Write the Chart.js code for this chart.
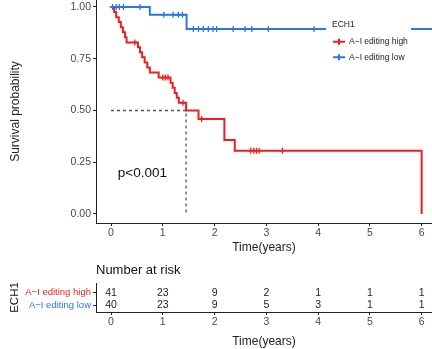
<!DOCTYPE html>
<html>
<head>
<meta charset="utf-8">
<title>ECH1 survival</title>
<script src="https://cdn.jsdelivr.net/npm/chart.js@4.4.1/dist/chart.umd.min.js"></script>
<style>
  html, body { margin: 0; padding: 0; background: #fff; }
  #wrap { position: relative; width: 432px; height: 349px; overflow: hidden; }
  #km { position: absolute; left: 0; top: 0; }
  #risk { position: absolute; left: 0; top: 255px; }
</style>
</head>
<body>
<div id="wrap">
  <canvas id="km" width="432" height="255"></canvas>
  <canvas id="risk" width="432" height="94"></canvas>
</div>
<script>
// Kaplan-Meier curves, ECH1 A-to-I editing groups
const highLabel = 'A\u2212I editing high';
const lowLabel = 'A\u2212I editing low';

const highTimes = [0, 0.06, 0.10, 0.15, 0.19, 0.23, 0.27, 0.30, 0.52, 0.56, 0.60, 0.65, 0.70, 0.75, 0.92, 1.15, 1.19, 1.23, 1.27, 1.31, 1.45, 1.69, 2.19, 2.39, 6.00];
const highSurv  = [1, 0.976, 0.951, 0.927, 0.902, 0.878, 0.854, 0.829, 0.805, 0.781, 0.757, 0.732, 0.708, 0.683, 0.659, 0.634, 0.610, 0.585, 0.561, 0.537, 0.500, 0.459, 0.357, 0.306, 0];
const highCensor = [0.46, 1.00, 1.05, 1.10, 1.39, 1.75, 2.70, 2.76, 2.81, 2.86, 3.31];

const lowTimes = [0, 0.75, 1.46, 6.2];
const lowSurv  = [1, 0.962, 0.894, 0.894];
const lowCensor = [0.03, 0.10, 0.16, 0.24, 0.56, 1.02, 1.20, 1.30, 1.38, 1.59, 1.69, 1.78, 1.88, 1.97, 2.04, 2.36, 2.59, 2.72, 3.04, 3.92];

const medianTime = 1.45;
const medianSurv = 0.5;
const pValue = 'p<0.001';

const timeTicks = [0, 1, 2, 3, 4, 5, 6];
const survTicks = [0, 0.25, 0.5, 0.75, 1];
const riskHigh = [41, 23, 9, 2, 1, 1, 1];
const riskLow  = [40, 23, 9, 5, 3, 1, 1];

const RED = '#F01E1E';
const BLUE = '#2C76E6';
const AXIS = '#222';
const TICK = '#4a4a4a';
const FONT = '"Liberation Sans", Arial, sans-serif';

Chart.defaults.font.family = FONT;

const X_MIN = -0.29, X_MAX = 6.2;

// survival value at time t (step function)
function survAt(times, surv, t) {
    let s = surv[0];
    for (let i = 0; i < times.length; i++) {
        if (times[i] <= t) s = surv[i];
    }
    return s;
}

const toPoints = (xs, ys) => xs.map((x, i) => ({ x: x, y: ys[i] }));
const censorPoints = (cs, times, surv) => cs.map(t => ({ x: t, y: survAt(times, surv, t) }));

function noPad(s) {
    s.paddingTop = 0; s.paddingBottom = 0; s.paddingLeft = 0; s.paddingRight = 0;
}

function timeAxis(height, titlePad) {
    return {
        type: 'linear', min: X_MIN, max: X_MAX,
        afterBuildTicks: s => { s.ticks = timeTicks.map(v => ({ value: v })); },
        afterFit: s => { s.height = height; noPad(s); },
        grid: { display: true, drawOnChartArea: false, drawTicks: true, tickLength: 3, color: AXIS, lineWidth: 1 },
        border: { display: true, color: AXIS, width: 1 },
        ticks: { color: TICK, font: { size: 10.5 }, padding: 1, maxRotation: 0, autoSkip: false },
        title: { display: true, text: 'Time(years)', color: '#222', font: { size: 12 }, padding: { top: titlePad, bottom: 0 } }
    };
}

// legend box and p-value label
const kmExtras = {
    id: 'kmExtras',
    afterDatasetsDraw(chart) {
        const ctx = chart.ctx;
        const xs = chart.scales.x, ys = chart.scales.y;
        ctx.save();
        ctx.fillStyle = '#fff';
        ctx.fillRect(326, 12, 85, 56);

        ctx.fillStyle = '#222';
        ctx.font = '8.5px ' + FONT;
        ctx.textBaseline = 'middle';
        ctx.textAlign = 'left';
        ctx.fillText('ECH1', 332, 25);

        [[highLabel, RED, 41.7], [lowLabel, BLUE, 57.3]].forEach(([label, col, y]) => {
            ctx.strokeStyle = col;
            ctx.lineWidth = 2;
            ctx.beginPath();
            ctx.moveTo(333, y); ctx.lineTo(345, y);
            ctx.moveTo(339, y - 3); ctx.lineTo(339, y + 3);
            ctx.stroke();
            ctx.fillStyle = '#222';
            ctx.fillText(label, 349, y);
        });

        ctx.fillStyle = '#111';
        ctx.font = '13.5px ' + FONT;
        ctx.fillText(pValue, xs.getPixelForValue(0.13), ys.getPixelForValue(0.195));
        ctx.restore();
    }
};

new Chart(document.getElementById('km'), {
    type: 'line',
    data: {
        datasets: [
            { type: 'scatter', data: censorPoints(lowCensor, lowTimes, lowSurv), order: 0,
              pointStyle: 'cross', pointRadius: 3, borderColor: BLUE, borderWidth: 1.3, showLine: false },
            { data: toPoints(lowTimes, lowSurv), order: 1, stepped: true,
              borderColor: BLUE, borderWidth: 2, pointRadius: 0, fill: false },
            { type: 'scatter', data: censorPoints(highCensor, highTimes, highSurv), order: 2,
              pointStyle: 'cross', pointRadius: 3, borderColor: RED, borderWidth: 1.3, showLine: false },
            { data: toPoints(highTimes, highSurv), order: 3, stepped: true,
              borderColor: RED, borderWidth: 2, pointRadius: 0, fill: false },
            { data: [{ x: 0, y: medianSurv }, { x: medianTime, y: medianSurv }, { x: medianTime, y: 0 }], order: 4,
              borderColor: '#555', borderWidth: 1.3, borderDash: [3, 3], pointRadius: 0, fill: false }
        ]
    },
    options: {
        responsive: false,
        animation: false,
        layout: { padding: 0, autoPadding: false },
        plugins: { legend: { display: false }, tooltip: { enabled: false } },
        scales: {
            x: timeAxis(32, 3),
            y: {
                type: 'linear', min: -0.0435, max: 1.0338,
                afterBuildTicks: s => { s.ticks = survTicks.map(v => ({ value: v })); },
                afterFit: s => { s.width = 96; noPad(s); },
                grid: { display: true, drawOnChartArea: false, drawTicks: true, tickLength: 3, color: AXIS, lineWidth: 1 },
                border: { display: true, color: AXIS, width: 1 },
                ticks: { color: TICK, font: { size: 10.5 }, padding: 2, callback: v => v.toFixed(2) },
                title: { display: true, text: 'Survival probability', color: '#222', font: { size: 12 }, padding: { top: 8, bottom: 0 } }
            }
        }
    },
    plugins: [kmExtras]
});

// numbers at risk table
const riskText = {
    id: 'riskText',
    afterDatasetsDraw(chart) {
        const ctx = chart.ctx;
        ctx.save();
        ctx.fillStyle = '#222';
        ctx.font = '10.5px ' + FONT;
        ctx.textAlign = 'center';
        ctx.textBaseline = 'middle';
        chart.data.datasets.forEach((ds, di) => {
            chart.getDatasetMeta(di).data.forEach((pt, i) => {
                ctx.fillText(String(ds.data[i].n), pt.x, pt.y);
            });
        });
        ctx.fillStyle = '#111';
        ctx.font = '13px ' + FONT;
        ctx.textAlign = 'left';
        ctx.fillText('Number at risk', chart.chartArea.left, 15);
        ctx.restore();
    }
};

const riskRows = [highLabel, lowLabel];

new Chart(document.getElementById('risk'), {
    type: 'scatter',
    data: {
        datasets: [
            { data: timeTicks.map((t, i) => ({ x: t, y: 0, n: riskHigh[i] })), pointRadius: 0 },
            { data: timeTicks.map((t, i) => ({ x: t, y: 1, n: riskLow[i] })), pointRadius: 0 }
        ]
    },
    options: {
        responsive: false,
        animation: false,
        layout: { padding: { top: 28, left: 0, right: 0, bottom: 0 }, autoPadding: false },
        plugins: { legend: { display: false }, tooltip: { enabled: false } },
        scales: {
            x: timeAxis(37, 6),
            y: {
                type: 'linear', min: -0.77, max: 1.53, reverse: true,
                afterBuildTicks: s => { s.ticks = [0, 1].map(v => ({ value: v })); },
                afterFit: s => { s.width = 96; noPad(s); },
                grid: { display: true, drawOnChartArea: false, drawTicks: true, tickLength: 3, color: AXIS, lineWidth: 1 },
                border: { display: true, color: AXIS, width: 1 },
                ticks: {
                    font: { size: 9.5 }, padding: 2,
                    color: c => (c.tick && c.tick.value === 0) ? RED : BLUE,
                    callback: v => riskRows[v]
                },
                title: { display: true, text: 'ECH1', color: '#111', font: { size: 11.5 }, padding: { top: 8, bottom: 0 } }
            }
        }
    },
    plugins: [riskText]
});
</script>
</body>
</html>
